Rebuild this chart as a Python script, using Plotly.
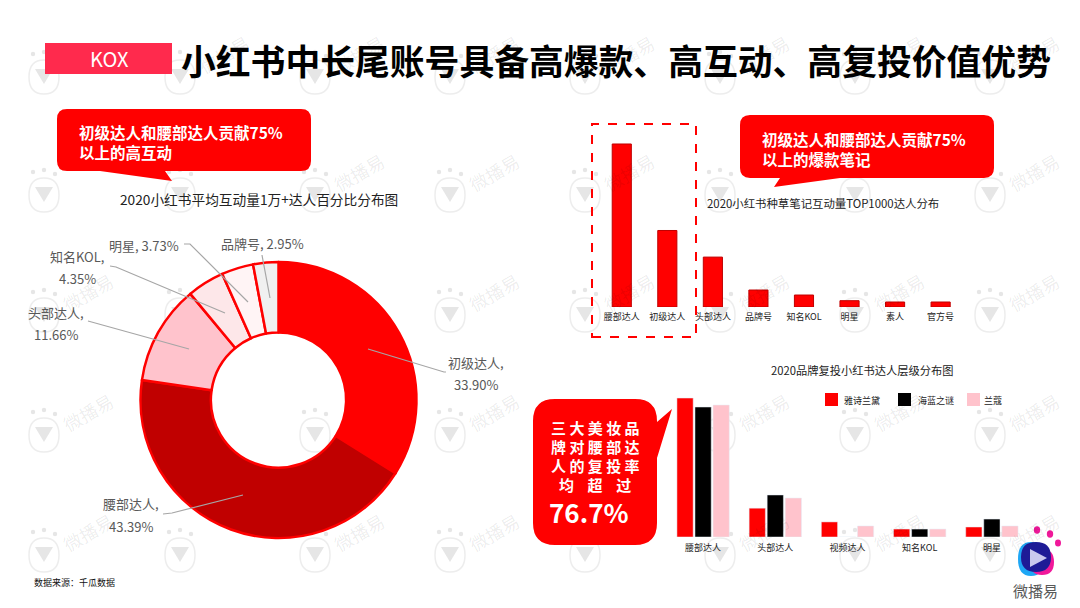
import plotly.graph_objects as go

W = 1080
H = 608
FONT = "Noto Sans CJK SC"

# donut
pie_names = ["初级达人", "腰部达人", "头部达人", "知名KOL", "明星", "品牌号"]
pie_values = [33.90, 43.39, 11.66, 4.35, 3.73, 2.95]
pie_colors = ["#FF0000", "#C00000", "#FFC3CC", "#FDE7E9", "#FFF4F5", "#F0F0F0"]

# top right bars
top_names = ["腰部达人", "初级达人", "头部达人", "品牌号", "知名KOL", "明星", "素人", "官方号"]
top_values = [49.0, 23.0, 15.0, 5.1, 3.6, 1.9, 1.5, 1.5]

# bottom right bars
brand_names = ["雅诗兰黛", "海蓝之谜", "兰蔻"]
tier_names = ["腰部达人", "头部达人", "视频达人", "知名KOL", "明星"]
estee_values = [82.0, 17.0, 8.9, 4.7, 5.9]
lamer_values = [76.7, 24.8, 0, 4.7, 10.6]
lancome_values = [77.9, 23.0, 6.5, 4.7, 6.5]
brand_colors = ["#FF0000", "#000000", "#FFC3CC"]


def fx(x):
    return x / W


def fy(y):
    return 1 - y / H


def pts(points, close=True):
    s = "M" + " L".join(f"{fx(x):.5f},{fy(y):.5f}" for x, y in points)
    return s + (" Z" if close else "")


def blob(cx, cy, rx, ry):
    return (f"M{fx(cx-rx):.5f},{fy(cy):.5f} "
            f"Q{fx(cx-rx):.5f},{fy(cy-ry):.5f} {fx(cx):.5f},{fy(cy-ry):.5f} "
            f"Q{fx(cx+rx):.5f},{fy(cy-ry):.5f} {fx(cx+rx):.5f},{fy(cy):.5f} "
            f"Q{fx(cx+rx):.5f},{fy(cy+ry):.5f} {fx(cx):.5f},{fy(cy+ry):.5f} "
            f"Q{fx(cx-rx):.5f},{fy(cy+ry):.5f} {fx(cx-rx):.5f},{fy(cy):.5f} Z")


def callout(x0, y0, x1, y1, r, tail):
    # rounded box, tail is inserted on the side it belongs to
    side, tip, a, b = tail
    p = f"M{fx(x0+r):.5f},{fy(y0):.5f} L{fx(x1-r):.5f},{fy(y0):.5f} "
    p += f"Q{fx(x1):.5f},{fy(y0):.5f} {fx(x1):.5f},{fy(y0+r):.5f} "
    if side == "right":
        p += f"L{fx(x1):.5f},{fy(a):.5f} L{fx(tip[0]):.5f},{fy(tip[1]):.5f} L{fx(x1):.5f},{fy(b):.5f} "
    p += f"L{fx(x1):.5f},{fy(y1-r):.5f} Q{fx(x1):.5f},{fy(y1):.5f} {fx(x1-r):.5f},{fy(y1):.5f} "
    if side == "bottom":
        p += f"L{fx(b):.5f},{fy(y1):.5f} L{fx(tip[0]):.5f},{fy(tip[1]):.5f} L{fx(a):.5f},{fy(y1):.5f} "
    p += f"L{fx(x0+r):.5f},{fy(y1):.5f} Q{fx(x0):.5f},{fy(y1):.5f} {fx(x0):.5f},{fy(y1-r):.5f} "
    p += f"L{fx(x0):.5f},{fy(y0+r):.5f} Q{fx(x0):.5f},{fy(y0):.5f} {fx(x0+r):.5f},{fy(y0):.5f} Z"
    return dict(type="path", path=p, xref="paper", yref="paper",
                fillcolor="#FF0000", line=dict(width=0), layer="above")


def note(text, x, y, size, color="#222222", anchor="center", bold=False, angle=0, align="left"):
    if bold:
        text = f"<b>{text}</b>"
    return dict(text=text, x=fx(x), y=fy(y), xref="paper", yref="paper", showarrow=False,
                xanchor=anchor, yanchor="middle", textangle=angle, align=align,
                font=dict(family=FONT, size=size, color=color))


shapes = []
annotations = []

# watermark grid
for cy in [74, 192, 312, 432, 552]:
    for cx in [44, 180, 315, 450, 585, 720, 855, 990]:
        shapes.append(dict(type="path", path=blob(cx, cy + 3, 15, 17), xref="paper", yref="paper",
                           fillcolor="rgba(0,0,0,0)", line=dict(color="#EDEDED", width=1.5), layer="below"))
        shapes.append(dict(type="path", path=pts([(cx - 9, cy - 5), (cx + 9, cy - 5), (cx, cy + 10)]),
                           xref="paper", yref="paper", fillcolor="#E6E6E6", line=dict(width=0), layer="below"))
        for dx, dy in [(-11, -20), (0, -22), (11, -18)]:
            shapes.append(dict(type="path", path=blob(cx + dx, cy + dy, 2.2, 2.2), xref="paper", yref="paper",
                               fillcolor="#E6E6E6", line=dict(width=0), layer="below"))
        tx, ty = cx + 44, cy - 20
        over_pie = (tx - 278) ** 2 + (ty - 400) ** 2 < 150 ** 2
        over_box = (50 < tx < 315 and 100 < ty < 180) or (735 < tx < 1000 and 110 < ty < 185) \
            or (530 < tx < 670 and 395 < ty < 550) or (30 < tx < 172 and 35 < ty < 80)
        if not over_pie and not over_box:
            annotations.append(note("微播易", tx, ty, 18, "rgba(0,0,0,0.08)", angle=-30))

# header
shapes.append(dict(type="rect", x0=fx(45), x1=fx(172), y0=fy(74), y1=fy(43), xref="paper", yref="paper",
                   fillcolor="#FF2A4D", line=dict(width=0)))
annotations.append(note("KOX", 109, 58, 20, "#FFFFFF"))
annotations.append(note("小红书中长尾账号具备高爆款、高互动、高复投价值优势", 179, 60, 34.8, "#000000", "left", True))

# callouts
shapes.append(callout(57, 109, 311, 171, 10, ("bottom", (172, 181), 100, 165)))
shapes.append(callout(740, 115, 994, 178, 10, ("bottom", (774, 187), 780, 840)))
shapes.append(callout(533, 399, 657, 545, 22, ("right", (672, 409), 422, 458)))
annotations.append(note("初级达人和腰部达人贡献75%", 77, 131.5, 15.5, "#FFFFFF", "left", True))
annotations.append(note("以上的高互动", 77, 151.5, 15.5, "#FFFFFF", "left", True))
annotations.append(note("初级达人和腰部达人贡献75%", 760, 138.5, 15.5, "#FFFFFF", "left", True))
annotations.append(note("以上的爆款笔记", 760, 158.5, 15.5, "#FFFFFF", "left", True))
annotations.append(note("三 大 美 妆 品", 595, 427, 15, "#FFFFFF", bold=True))
annotations.append(note("牌 对 腰 部 达", 595, 446, 15, "#FFFFFF", bold=True))
annotations.append(note("人 的 复 投 率", 595, 465, 15, "#FFFFFF", bold=True))
annotations.append(note("均    超    过", 595, 484, 15, "#FFFFFF", bold=True))
annotations.append(note("76.7%", 547, 511, 26, "#FFFFFF", "left", True))

# dashed highlight
shapes.append(dict(type="rect", x0=fx(592), x1=fx(696), y0=fy(337), y1=fy(124), xref="paper", yref="paper",
                   fillcolor="rgba(0,0,0,0)", line=dict(color="#FF0000", width=2, dash="dash")))

# chart titles
annotations.append(note("2020小红书平均互动量1万+达人百分比分布图", 259, 199, 13.7))
annotations.append(note("2020小红书种草笔记互动量TOP1000达人分布", 823, 203, 11.4))
annotations.append(note("2020品牌复投小红书达人层级分布图", 862, 370, 11.25))

# donut labels, with leader lines
label_spots = [(476, 362, 384), (131, 503, 526), (56, 312, 334), (77, 256, 279), (144, 245, 0), (262, 243, 0)]
leaders = [
    [(368, 349), (444, 372), (446, 372)],
    [(163, 514), (172, 513), (243, 495)],
    [(88, 321), (189, 349)],
    [(110, 266), (116, 267), (225, 313)],
    [(184, 244), (190, 244), (248, 302)],
    [(262, 255), (270, 298)],
]
for i, name in enumerate(pie_names):
    lx, ly1, ly2 = label_spots[i]
    if ly2:
        annotations.append(note(f"{name},", lx, ly1, 13, "#595959"))
        annotations.append(note(f"{pie_values[i]:.2f}%", lx, ly2, 13, "#595959"))
    else:
        annotations.append(note(f"{name}, {pie_values[i]:.2f}%", lx, ly1, 13, "#595959"))
    shapes.append(dict(type="path", path=pts(leaders[i], close=False), xref="paper", yref="paper",
                       line=dict(color="#A6A6A6", width=1.2), layer="above"))

# legend of the lower bars
swatch_left = [825, 898, 967]
legend_text_left = [844, 918, 984]
for i, name in enumerate(brand_names):
    shapes.append(dict(type="rect", x0=fx(swatch_left[i]), x1=fx(swatch_left[i] + 13), y0=fy(406), y1=fy(393),
                       xref="paper", yref="paper", fillcolor=brand_colors[i], line=dict(width=0)))
    annotations.append(note(name, legend_text_left[i] - 2, 400, 9, "#222222", "left"))

# logo, bottom right
shapes.append(dict(type="path", path=blob(1031, 559, 13, 17), xref="paper", yref="paper",
                   fillcolor="#1EA7F5", line=dict(width=0)))
shapes.append(dict(type="path", path=blob(1042, 562, 12, 13), xref="paper", yref="paper",
                   fillcolor="#F0189A", line=dict(width=0)))
shapes.append(dict(type="path", path=blob(1036, 557, 15, 15), xref="paper", yref="paper",
                   fillcolor="#1E1B96", line=dict(width=0)))
shapes.append(dict(type="path", path=pts([(1030, 549), (1047, 558), (1030, 567)]), xref="paper", yref="paper",
                   fillcolor="#C9C8EE", line=dict(width=0)))
for dx, dy, r in [(1037, 530, 3.2), (1050, 534, 3.2), (1058, 543, 3)]:
    shapes.append(dict(type="path", path=blob(dx, dy, r, r + 0.5), xref="paper", yref="paper",
                       fillcolor="#F0189A", line=dict(width=0)))
annotations.append(note("微播易", 1035, 590, 15, "#595959"))

# source
annotations.append(note("数据来源：千瓜数据", 32, 582, 9, "#111111", "left"))

fig = go.Figure()

fig.add_trace(go.Pie(labels=pie_names, values=pie_values, hole=0.49, sort=False, direction="clockwise",
                     rotation=0, textinfo="none", showlegend=False,
                     domain=dict(x=[fx(140), fx(417)], y=[fy(538), fy(262)]),
                     marker=dict(colors=pie_colors, line=dict(color="#FF0000", width=2.5))))

fig.add_trace(go.Bar(x=top_names, y=top_values, xaxis="x", yaxis="y", showlegend=False, width=0.42,
                     marker=dict(color="#FF0000", line=dict(color="#C00000", width=1))))

for name, vals, col in zip(brand_names, [estee_values, lamer_values, lancome_values], brand_colors):
    fig.add_trace(go.Bar(x=tier_names, y=vals, name=name, xaxis="x2", yaxis="y2", showlegend=False,
                         marker=dict(color=col)))

fig.update_layout(
    width=W, height=H, margin=dict(l=0, r=0, t=0, b=0),
    paper_bgcolor="#FFFFFF", plot_bgcolor="rgba(0,0,0,0)",
    font=dict(family=FONT),
    barmode="group",
    bargap=0.25, bargroupgap=0.1,
    shapes=shapes, annotations=annotations,
    xaxis=dict(domain=[fx(599), fx(963.4)], anchor="y", showgrid=False, zeroline=False, ticks="",
               tickfont=dict(size=9, color="#222222", family=FONT), ticklabelstandoff=3),
    yaxis=dict(domain=[fy(307), fy(140)], anchor="x", range=[0, 50.2], visible=False),
    xaxis2=dict(domain=[fx(667), fx(1028)], anchor="y2", showgrid=False, zeroline=False, ticks="",
                tickfont=dict(size=9, color="#222222", family=FONT), ticklabelstandoff=4),
    yaxis2=dict(domain=[fy(537), fy(395)], anchor="x2", range=[0, 83.8], visible=False),
)

fig.write_html("out.html", config=dict(displayModeBar=False), post_script="document.body.style.margin='0';")
